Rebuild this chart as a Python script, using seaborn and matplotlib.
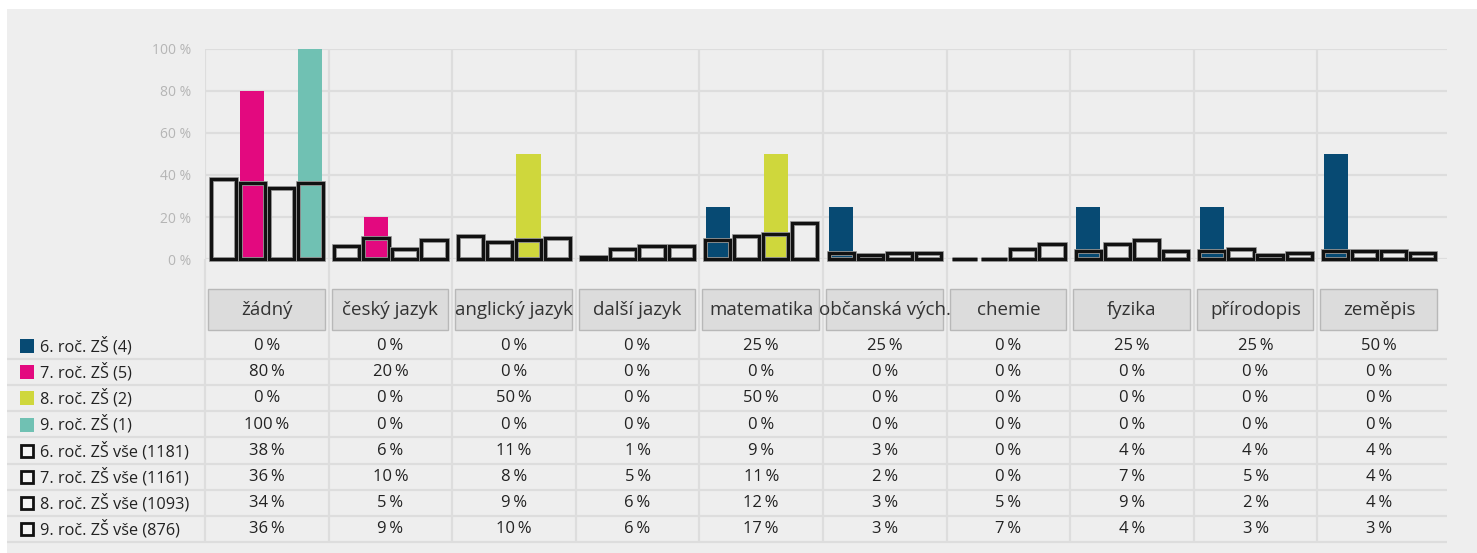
import numpy as np
import pandas as pd
import matplotlib.pyplot as plt
import matplotlib.patheffects as pe
from matplotlib.patches import Rectangle
import seaborn as sns

sns.set_theme(style="white")
plt.rcParams['font.family'] = ['Open Sans', 'DejaVu Sans']

kategorie = ['žádný', 'český jazyk', 'anglický jazyk', 'další jazyk', 'matematika',
             'občanská vých.', 'chemie', 'fyzika', 'přírodopis', 'zeměpis']

nazvy_bar = ['6. roč. ZŠ (4)', '7. roč. ZŠ (5)', '8. roč. ZŠ (2)', '9. roč. ZŠ (1)']
barvy = ['#074a73', '#e3097f', '#cfd73c', '#70c1b3']
roc6 = [0, 0, 0, 0, 25, 25, 0, 25, 25, 50]
roc7 = [80, 20, 0, 0, 0, 0, 0, 0, 0, 0]
roc8 = [0, 0, 50, 0, 50, 0, 0, 0, 0, 0]
roc9 = [100, 0, 0, 0, 0, 0, 0, 0, 0, 0]

nazvy_vse = ['6. roč. ZŠ vše (1181)', '7. roč. ZŠ vše (1161)',
             '8. roč. ZŠ vše (1093)', '9. roč. ZŠ vše (876)']
vse6 = [38, 6, 11, 1, 9, 3, 0, 4, 4, 4]
vse7 = [36, 10, 8, 5, 11, 2, 0, 7, 5, 4]
vse8 = [34, 5, 9, 6, 12, 3, 5, 9, 2, 4]
vse9 = [36, 9, 10, 6, 17, 3, 7, 4, 3, 3]

y_ticks = [0, 20, 40, 60, 80, 100]

df_bar = pd.DataFrame({
    'kategorie': np.tile(kategorie, 4),
    'rada': np.repeat(nazvy_bar, len(kategorie)),
    'hodnota': np.concatenate([roc6, roc7, roc8, roc9]),
})
df_vse = pd.DataFrame({
    'kategorie': np.tile(kategorie, 4),
    'rada': np.repeat(nazvy_vse, len(kategorie)),
    'hodnota': np.concatenate([vse6, vse7, vse8, vse9]),
})

W, H = 1477, 553
SLOUPEC = 123.6  # px na jednu kategorii


def px2x(px):
    return -0.5 + (px - 205) / SLOUPEC


fig = plt.figure(figsize=(W / 100, H / 100), dpi=100)
fig.patch.set_facecolor('white')
fig.add_artist(Rectangle((7 / W, 0), (W - 7) / W, (H - 9) / H, transform=fig.transFigure,
                         facecolor='#eeeeee', edgecolor='none', zorder=-10))

# --- sloupcovy graf ---
ax = fig.add_axes([205 / W, 1 - 259 / H, (1447 - 205) / W, (259 - 49) / H])
ax.set_facecolor('none')

sns.barplot(data=df_bar, x='kategorie', y='hodnota', hue='rada', order=kategorie,
            hue_order=nazvy_bar, palette=barvy, width=0.94, gap=0.17, saturation=1,
            errorbar=None, linewidth=0, legend=False, ax=ax, zorder=2)
n_bar = len(ax.patches)
sns.barplot(data=df_vse, x='kategorie', y='hodnota', hue='rada', order=kategorie,
            hue_order=nazvy_vse, palette=['#111111'] * 4, fill=False, width=0.94, gap=0.13,
            linewidth=2.3, errorbar=None, legend=False, ax=ax, zorder=3)
for p in ax.patches[n_bar:]:
    p.set_clip_on(False)
    p.set_path_effects([pe.Stroke(linewidth=3.5, foreground='#9a9a9a'), pe.Normal()])

ax.set_xlim(px2x(205), px2x(1447))
ax.set_ylim(0, 100)
ax.set_xticks([])
ax.set_xlabel('')
ax.set_ylabel('')
ax.set_yticks(y_ticks)
ax.set_yticklabels([f'{v} %' for v in y_ticks], color='#b5b5b5', fontsize=10)
ax.tick_params(axis='y', length=0, pad=10)
ax.grid(axis='y', color='#dddddd', lw=1.6)
ax.set_axisbelow(True)
for s in ax.spines.values():
    s.set_visible(False)
for i in range(len(kategorie)):
    ax.axvline(i - 0.5, color='#dddddd', lw=1.6, zorder=0.5)

# --- tabulka ---
tab = fig.add_axes([7 / W, 0, (1447 - 7) / W, (H - 259) / H])
tab.set_xlim(px2x(7), px2x(1447))
tab.set_ylim(H, 259)
tab.axis('off')

radek_y = 346 + 26.2 * np.arange(8)
tab.vlines(np.arange(len(kategorie)) - 0.5, 259, 542, color='#dddddd', lw=1.6)
tab.hlines(radek_y + 12.7, px2x(7), px2x(1447), color='#dddddd', lw=1.6)

for i, k in enumerate(kategorie):
    tab.add_patch(Rectangle((i - 0.5 + 3 / SLOUPEC, 289), (SLOUPEC - 7) / SLOUPEC, 41,
                            facecolor='#dcdcdc', edgecolor='#b8b8b8', lw=1))
    tab.text(i, 310, k, ha='center', va='center', fontsize=13.5, color='#333333')

rady = list(zip(nazvy_bar, [roc6, roc7, roc8, roc9], barvy)) + \
    list(zip(nazvy_vse, [vse6, vse7, vse8, vse9], [None] * 4))
sq_w = 14 / SLOUPEC
for r, (nazev, hodnoty, barva) in enumerate(rady):
    yc = radek_y[r]
    if barva:
        tab.add_patch(Rectangle((px2x(20), yc - 7), sq_w, 14, facecolor=barva, edgecolor='none'))
    else:
        tab.add_patch(Rectangle((px2x(21), yc - 6), 12 / SLOUPEC, 12, facecolor='#f4f4f4',
                                edgecolor='#111111', lw=2))
    tab.text(px2x(40), yc, nazev, ha='left', va='center', fontsize=11.7, color='#222222')
    for i, v in enumerate(hodnoty):
        tab.text(i, yc, f'{v}\u2009%', ha='center', va='center', fontsize=12, color='#222222')

fig.savefig('out.png', dpi=100)
